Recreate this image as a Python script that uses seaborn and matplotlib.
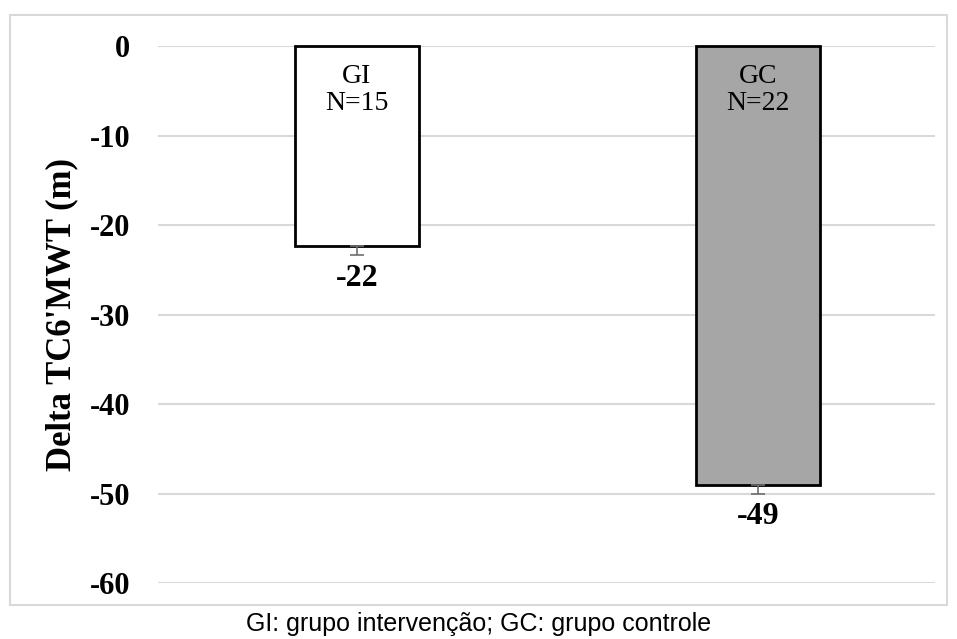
import numpy as np
import pandas as pd
import seaborn as sns
import matplotlib.pyplot as plt
from matplotlib.patches import Rectangle

groups = ['GI', 'GC']
n_sizes = [15, 22]
delta = [-22.4, -49.0]
err = [0.9, 1.0]
colors = ['#ffffff', '#a6a6a6']
yticks = [0, -10, -20, -30, -40, -50, -60]

df = pd.DataFrame({'grupo': groups, 'delta': delta})

sns.set_style('white')
plt.rcParams['font.family'] = ['Liberation Serif', 'DejaVu Serif']
plt.rcParams['text.color'] = 'black'
plt.rcParams['ytick.color'] = 'black'
plt.rcParams['axes.labelcolor'] = 'black'

fig = plt.figure(figsize=(9.57, 6.39), dpi=100)
ax = fig.add_axes([0.165, 0.0876, 0.812, 0.8404])

sns.barplot(data=df, x='grupo', y='delta', hue='grupo', palette=colors,
            edgecolor='black', linewidth=2, width=0.31, legend=False,
            errorbar=None, ax=ax, zorder=3)
for p in ax.patches:
    p.set_clip_on(False)

# one-sided (minus) error bars
ax.errorbar(range(len(groups)), delta, yerr=[err, [0, 0]], fmt='none',
            ecolor='#6e6e6e', elinewidth=1.2, capsize=5, capthick=1.2, zorder=4)

for i, (g, n, v) in enumerate(zip(groups, n_sizes, delta)):
    ax.text(i, -2.0, f'{g}\nN={n}', ha='center', va='top', fontsize=20,
            linespacing=1.1, zorder=5)
    ax.text(i, v - 3.6, f'{v:.0f}', ha='center', va='center', fontsize=23,
            fontweight='bold', zorder=5)

ax.set_xlim(-0.496, 1.441)
ax.set_ylim(-60, 0)
ax.set_yticks(yticks)
ax.set_yticklabels([str(t) for t in yticks], fontsize=22, fontweight='bold')
ax.tick_params(axis='y', length=0, pad=20)
ax.set_xticks([])
ax.set_xlabel('')
ax.set_ylabel("Delta TC6'MWT (m)", fontsize=25, fontweight='bold', labelpad=8)
ax.yaxis.grid(True, color='#d9d9d9', linewidth=1.5, zorder=0)
ax.set_axisbelow(True)
sns.despine(ax=ax, left=True, bottom=True)

# outer chart border
fig.patches.append(Rectangle((10 / 957, 1 - 605 / 639), 937 / 957, 590 / 639,
                             transform=fig.transFigure, fill=False,
                             edgecolor='#d9d9d9', linewidth=1.5))

fig.text(0.5, 1 - 624 / 639, 'GI: grupo intervenção; GC: grupo controle',
         ha='center', va='center', fontsize=18, family='Liberation Sans')

fig.savefig('out.png', dpi=100)
